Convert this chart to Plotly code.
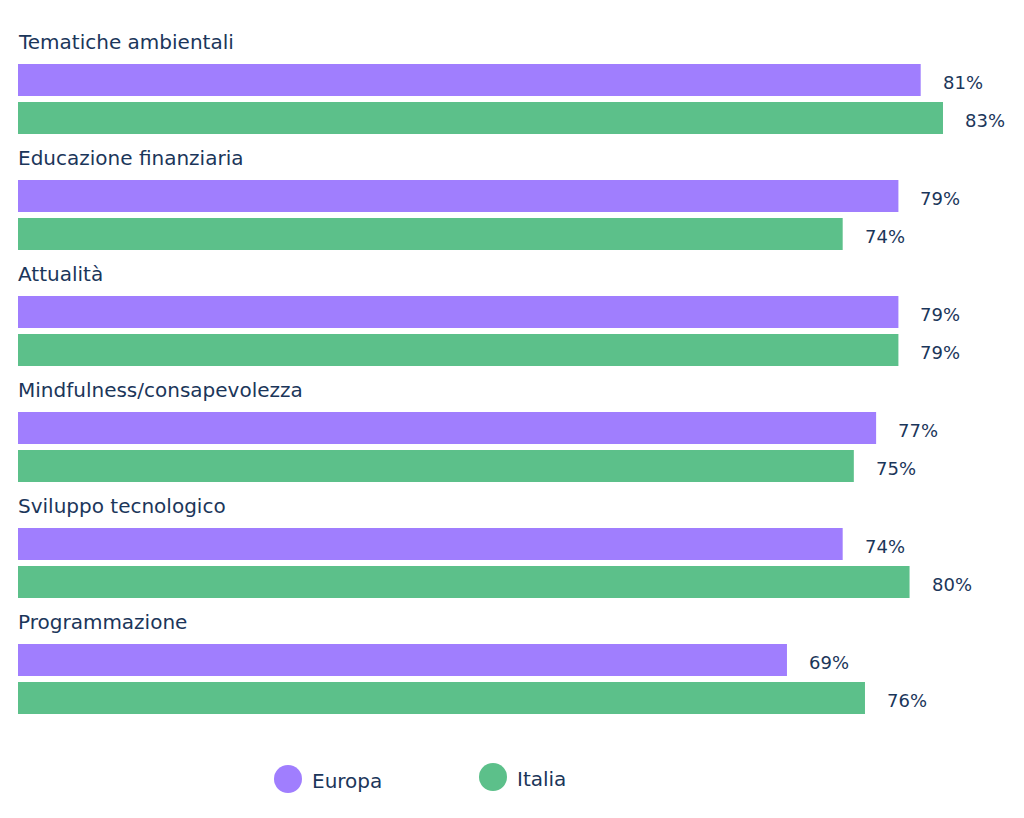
import plotly.graph_objects as go

# survey topics, top to bottom
categories = [
    "Tematiche ambientali",
    "Educazione finanziaria",
    "Attualità",
    "Mindfulness/consapevolezza",
    "Sviluppo tecnologico",
    "Programmazione",
]
europa = [81, 79, 79, 77, 74, 69]
italia = [83, 74, 79, 75, 80, 76]

series_names = ["Europa", "Italia"]
colors = ["#A07EFE", "#5CC08A"]
text_color = "#1B365A"
font_family = "'DejaVu Sans', sans-serif"

fig = go.Figure()
for name, vals, col in zip(series_names, [europa, italia], colors):
    fig.add_trace(
        go.Bar(
            y=categories,
            x=vals,
            name=name,
            orientation="h",
            marker=dict(color=col, line=dict(width=0)),
            showlegend=False,
            hoverinfo="x+name",
        )
    )

annotations = []
# category titles above each pair of bars
for cat in categories:
    annotations.append(
        dict(x=0, y=cat, xref="x", yref="y", text=cat, showarrow=False,
             xanchor="left", yanchor="middle", yshift=57, xshift=-2,
             font=dict(size=20, color=text_color, family=font_family))
    )
# value labels at the end of the bars
for vals, shift in [(europa, 17), (italia, -21)]:
    for cat, v in zip(categories, vals):
        annotations.append(
            dict(x=v, y=cat, xref="x", yref="y", text=f"{v}%", showarrow=False,
                 xanchor="left", yanchor="middle", xshift=20, yshift=shift,
                 font=dict(size=18, color=text_color, family=font_family))
        )

# hand-made legend with big round dots (page pixel positions -> paper)
W, H = 1003.0, 696.0
legend_items = [(288, 779), (493, 777)]
shapes = []
for (px, py), name, col in zip(legend_items, series_names, colors):
    xp = (px - 18) / W
    yp = (737 - py) / H
    shapes.append(
        dict(type="circle", xref="paper", yref="paper", xsizemode="pixel", ysizemode="pixel",
             xanchor=xp, yanchor=yp, x0=-14, x1=14, y0=-14, y1=14,
             fillcolor=col, line=dict(width=0))
    )
    annotations.append(
        dict(x=xp, y=yp, xref="paper", yref="paper", text=name, showarrow=False,
             xanchor="left", yanchor="middle", xshift=22, yshift=-2,
             font=dict(size=20, color=text_color, family=font_family))
    )

# page has an 8px body margin, so margins are trimmed by 8
fig.update_layout(
    width=1024,
    height=818,
    barmode="group",
    bargap=0.345,
    bargroupgap=0.158,
    plot_bgcolor="white",
    paper_bgcolor="white",
    margin=dict(l=10, r=11, t=33, b=89),
    xaxis=dict(range=[0, 90], visible=False),
    yaxis=dict(type="category", categoryorder="array", categoryarray=categories,
               range=[5.5, -0.5], visible=False),
    annotations=annotations,
    shapes=shapes,
    showlegend=False,
)

fig.write_html("out.html")
